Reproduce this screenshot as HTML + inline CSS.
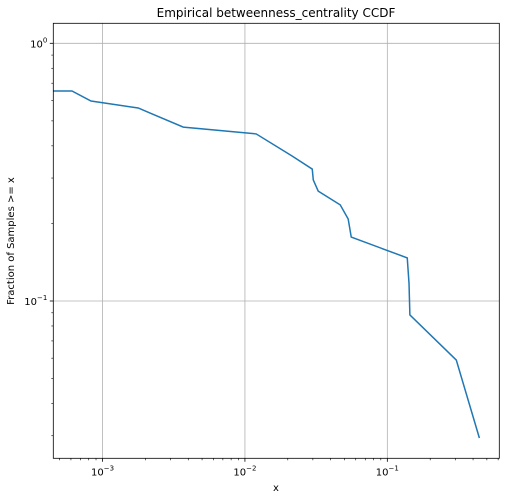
<!DOCTYPE html>
<html><head><meta charset="utf-8"><style>
body{margin:0;background:#fff;}
svg{display:block;font-family:"DejaVu Sans","Liberation Sans",sans-serif;}
</style></head><body>
<svg id="c" width="506" height="500"></svg>
<script>
const xVals=[0.00045,0.00061,0.00083,0.00178,0.00223,0.00369,0.012,0.0215,0.0297,0.0302,0.0327,0.0467,0.0531,0.0558,0.138,0.142,0.144,0.305,0.443];
const yVals=[0.653,0.653,0.597,0.561,0.532,0.473,0.445,0.365,0.325,0.295,0.267,0.236,0.208,0.177,0.147,0.117,0.0883,0.059,0.0294];
const xMajor=[-3,-2,-1];
const yMajor=[0,-1];
const L=53.3,R=499.3,T=23.3,B=458.3;
const xLo=-3.3457,xHi=-0.2137; // log10 limits
const yLo=-1.6104,yHi=0.0776;
function X(v){return L+(Math.log10(v)-xLo)/(xHi-xLo)*(R-L);}
function Y(v){return B-(Math.log10(v)-yLo)/(yHi-yLo)*(B-T);}
const svg=document.getElementById('c');
const NS='http://www.w3.org/2000/svg';
function mk(t,a,p){const e=document.createElementNS(NS,t);for(const k in a)e.setAttribute(k,a[k]);(p||svg).appendChild(e);return e;}
const title=mk('text',{x:276,y:17,'text-anchor':'middle','font-size':12,fill:'#000'});
title.textContent='Empirical betweenness_centrality CCDF';


// grid
xMajor.forEach(e=>{const x=X(Math.pow(10,e));
 const g=mk('line',{x1:x,x2:x,y1:T,y2:B,stroke:'#b0b0b0','stroke-width':0.8});
 
 mk('line',{x1:x,x2:x,y1:B,y2:B+3.5,stroke:'#000','stroke-width':0.8});
 const t=mk('text',{x:x,y:B+17,'text-anchor':'middle','font-size':10,fill:'#000'});
 t.innerHTML='10<tspan dy="-5" font-size="7">\u2212'+(-e)+'</tspan>';
 
});
for(let e=-4;e<=-1;e++)for(let m=2;m<=9;m++){const v=m*Math.pow(10,e);const l=Math.log10(v);
 if(l<xLo||l>xHi)continue;const x=X(v);mk('line',{x1:x,x2:x,y1:B,y2:B+2,stroke:'#000','stroke-width':0.6});}
yMajor.forEach(e=>{const y=Y(Math.pow(10,e));
 const g=mk('line',{x1:L,x2:R,y1:y,y2:y,stroke:'#b0b0b0','stroke-width':0.8});
 
 mk('line',{x1:L-3.5,x2:L,y1:y,y2:y,stroke:'#000','stroke-width':0.8});
 const t=mk('text',{x:L-6,y:y+4,'text-anchor':'end','font-size':10,fill:'#000'});
 t.innerHTML='10<tspan dy="-5" font-size="7">'+(e<0?'\u2212'+(-e):'0')+'</tspan>';
 
});
for(let e=-2;e<=0;e++)for(let m=2;m<=9;m++){const v=m*Math.pow(10,e);const l=Math.log10(v);
 if(l<yLo||l>yHi)continue;const y=Y(v);mk('line',{x1:L-2,x2:L,y1:y,y2:y,stroke:'#000','stroke-width':0.6});}
// line
mk('clipPath',{id:'cp'});mk('rect',{x:L,y:T,width:R-L,height:B-T},svg.lastChild);
const pts=xVals.map((v,i)=>X(v).toFixed(2)+','+Y(yVals[i]).toFixed(2)).join(' ');
const pl=mk('polyline',{points:pts,fill:'none',stroke:'#1f77b4','stroke-width':1.5,'clip-path':'url(#cp)'});

const fr=mk('rect',{x:L,y:T,width:R-L,height:B-T,fill:'none',stroke:'#000','stroke-width':0.8});

const xl=mk('text',{x:276,y:491,'text-anchor':'middle','font-size':10,fill:'#000'});xl.textContent='x';

const yl=mk('text',{x:0,y:0,'text-anchor':'middle','font-size':10,fill:'#000',transform:'translate(14,241) rotate(-90)'});yl.textContent='Fraction of Samples >= x';

</script>
</body></html>
